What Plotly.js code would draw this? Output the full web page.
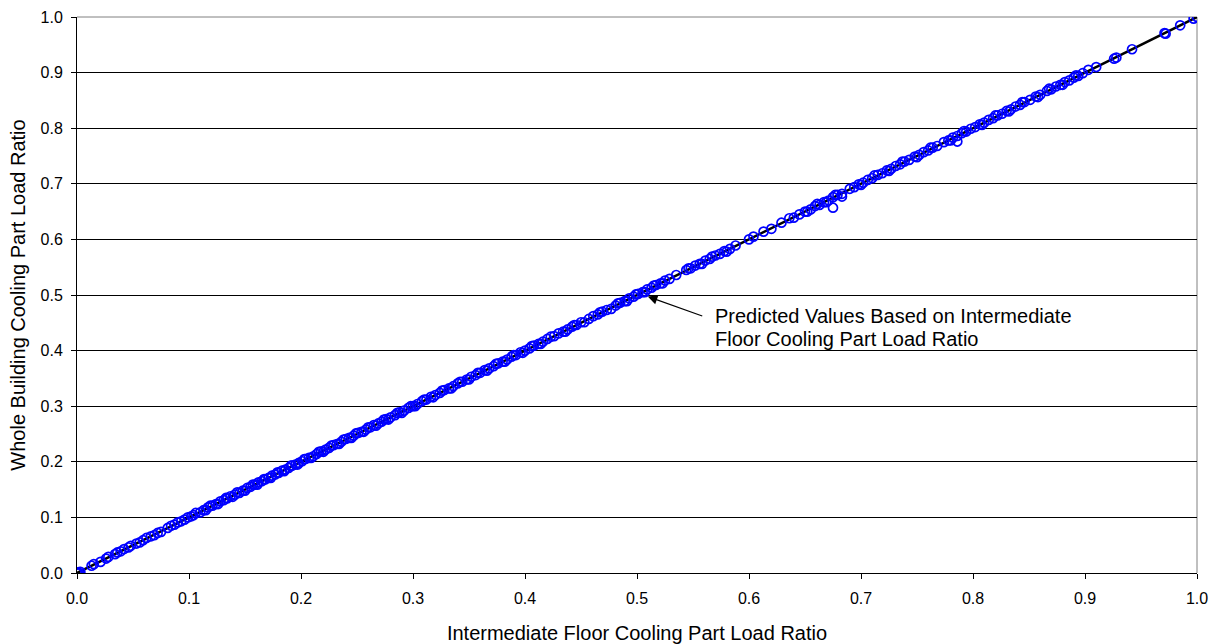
<!DOCTYPE html>
<html>
<head>
<meta charset="utf-8">
<script src="https://cdn.plot.ly/plotly-3.0.1.min.js"></script>
<style>
  html, body { margin: 0; padding: 0; background: #ffffff; }
  #chart { width: 1221px; height: 644px; }
</style>
</head>
<body>
<div id="chart"></div>
<script>
// Intermediate floor cooling part load ratio (x) for each hour
const intermediatePLR = [
  0.000, 0.001, 0.002, 0.003, 0.013, 0.015, 0.021, 0.026, 0.028, 0.034,
  0.036, 0.039, 0.042, 0.046, 0.048, 0.053, 0.056, 0.059, 0.062, 0.066,
  0.069, 0.072, 0.075, 0.081, 0.084, 0.087, 0.090, 0.093, 0.096, 0.099,
  0.102, 0.104, 0.110, 0.113, 0.117, 0.121, 0.124, 0.128, 0.131, 0.134,
  0.137, 0.141, 0.145, 0.148, 0.152, 0.155, 0.159, 0.162, 0.165, 0.168,
  0.171, 0.174, 0.177, 0.180, 0.183, 0.186, 0.189, 0.192, 0.195, 0.198,
  0.201, 0.204, 0.207, 0.211, 0.214, 0.218, 0.222, 0.225, 0.229, 0.232,
  0.236, 0.240, 0.243, 0.247, 0.251, 0.254, 0.258, 0.262, 0.265, 0.269,
  0.272, 0.276, 0.280, 0.284, 0.288, 0.292, 0.296, 0.300, 0.304, 0.308,
  0.312, 0.316, 0.320, 0.324, 0.328, 0.332, 0.336, 0.340, 0.344, 0.348,
  0.352, 0.356, 0.360, 0.364, 0.368, 0.372, 0.376, 0.380, 0.384, 0.388,
  0.392, 0.396, 0.400, 0.404, 0.408, 0.412, 0.416, 0.420, 0.426, 0.430,
  0.434, 0.438, 0.442, 0.446, 0.450, 0.457, 0.461, 0.465, 0.469, 0.473,
  0.481, 0.485, 0.489, 0.493, 0.497, 0.501, 0.505, 0.509, 0.513, 0.517,
  0.521, 0.525, 0.529, 0.535, 0.544, 0.548, 0.552, 0.556, 0.561, 0.565,
  0.570, 0.574, 0.578, 0.583, 0.588, 0.600, 0.604, 0.613, 0.620, 0.629,
  0.640, 0.645, 0.650, 0.655, 0.659, 0.663, 0.667, 0.671, 0.675, 0.679,
  0.683, 0.690, 0.694, 0.698, 0.702, 0.706, 0.710, 0.715, 0.719, 0.723,
  0.727, 0.731, 0.735, 0.739, 0.743, 0.748, 0.752, 0.756, 0.760, 0.764,
  0.768, 0.774, 0.778, 0.782, 0.786, 0.790, 0.794, 0.798, 0.802, 0.806,
  0.810, 0.814, 0.818, 0.822, 0.826, 0.830, 0.834, 0.838, 0.842, 0.846,
  0.851, 0.856, 0.860, 0.866, 0.870, 0.874, 0.878, 0.882, 0.886, 0.890,
  0.894, 0.898, 0.903, 0.910, 0.926, 0.928, 0.942, 0.971, 0.972, 0.985,
  0.997, 1.000, 0.675, 0.683, 0.786, 0.000
];

// Whole building cooling part load ratio (y) for the same hours
const wholeBuildingPLR = [
  0.000, 0.001, 0.000, 0.002, 0.013, 0.016, 0.020, 0.026, 0.029, 0.034,
  0.037, 0.039, 0.043, 0.046, 0.049, 0.053, 0.055, 0.059, 0.063, 0.066,
  0.068, 0.072, 0.074, 0.081, 0.085, 0.087, 0.091, 0.093, 0.096, 0.100,
  0.102, 0.104, 0.109, 0.113, 0.118, 0.121, 0.124, 0.129, 0.131, 0.134,
  0.138, 0.141, 0.144, 0.148, 0.153, 0.155, 0.159, 0.163, 0.165, 0.168,
  0.171, 0.175, 0.177, 0.180, 0.184, 0.186, 0.189, 0.193, 0.195, 0.198,
  0.201, 0.205, 0.207, 0.210, 0.214, 0.219, 0.222, 0.225, 0.230, 0.232,
  0.236, 0.241, 0.243, 0.247, 0.252, 0.254, 0.258, 0.262, 0.266, 0.269,
  0.272, 0.277, 0.280, 0.284, 0.289, 0.292, 0.297, 0.300, 0.304, 0.309,
  0.312, 0.317, 0.320, 0.324, 0.329, 0.332, 0.336, 0.341, 0.344, 0.348,
  0.353, 0.356, 0.360, 0.365, 0.368, 0.372, 0.377, 0.380, 0.384, 0.389,
  0.392, 0.397, 0.400, 0.404, 0.409, 0.412, 0.416, 0.421, 0.426, 0.431,
  0.434, 0.438, 0.443, 0.446, 0.451, 0.457, 0.462, 0.465, 0.470, 0.473,
  0.481, 0.486, 0.489, 0.494, 0.497, 0.502, 0.505, 0.510, 0.513, 0.518,
  0.521, 0.526, 0.529, 0.536, 0.545, 0.548, 0.553, 0.556, 0.562, 0.565,
  0.571, 0.574, 0.579, 0.583, 0.589, 0.600, 0.605, 0.614, 0.619, 0.630,
  0.639, 0.645, 0.650, 0.654, 0.660, 0.662, 0.667, 0.670, 0.676, 0.680,
  0.682, 0.691, 0.694, 0.699, 0.702, 0.707, 0.710, 0.716, 0.719, 0.724,
  0.727, 0.732, 0.735, 0.740, 0.743, 0.749, 0.752, 0.757, 0.760, 0.765,
  0.768, 0.775, 0.778, 0.783, 0.786, 0.791, 0.794, 0.799, 0.802, 0.807,
  0.810, 0.815, 0.818, 0.823, 0.826, 0.831, 0.834, 0.839, 0.842, 0.847,
  0.851, 0.857, 0.860, 0.867, 0.870, 0.875, 0.878, 0.883, 0.886, 0.891,
  0.894, 0.899, 0.905, 0.910, 0.925, 0.927, 0.942, 0.971, 0.970, 0.985,
  0.997, 1.000, 0.657, 0.677, 0.776, 0.000
];

// Further hours in the busy middle of the range
const moreIntermediatePLR = [
  0.106, 0.115, 0.119, 0.126, 0.133, 0.139, 0.143, 0.150, 0.157, 0.161,
  0.167, 0.173, 0.179, 0.185, 0.191, 0.197, 0.203, 0.209, 0.216, 0.220,
  0.227, 0.234, 0.238, 0.245, 0.249, 0.256, 0.260, 0.267, 0.274, 0.278,
  0.286, 0.290, 0.298, 0.302, 0.310, 0.318, 0.326, 0.334, 0.342, 0.350,
  0.358, 0.366, 0.374, 0.382, 0.390, 0.398, 0.406, 0.414, 0.423, 0.436,
  0.444, 0.453, 0.467, 0.477, 0.483, 0.491, 0.499, 0.507, 0.515, 0.523,
  0.546, 0.558, 0.567, 0.580, 0.636, 0.652, 0.661, 0.669, 0.677, 0.700,
  0.712, 0.725, 0.737, 0.750, 0.762, 0.780, 0.792, 0.808, 0.820, 0.832,
  0.844, 0.858, 0.868, 0.880, 0.892
];
const moreWholeBuildingPLR = [
  0.108, 0.113, 0.121, 0.124, 0.135, 0.137, 0.145, 0.148, 0.159, 0.159,
  0.169, 0.171, 0.181, 0.183, 0.193, 0.195, 0.205, 0.207, 0.218, 0.218,
  0.229, 0.232, 0.240, 0.243, 0.251, 0.254, 0.262, 0.265, 0.276, 0.276,
  0.288, 0.288, 0.300, 0.300, 0.312, 0.316, 0.328, 0.332, 0.344, 0.348,
  0.360, 0.364, 0.376, 0.380, 0.392, 0.396, 0.408, 0.412, 0.425, 0.434,
  0.446, 0.451, 0.469, 0.475, 0.485, 0.489, 0.501, 0.505, 0.517, 0.521,
  0.548, 0.556, 0.569, 0.578, 0.638, 0.650, 0.664, 0.667, 0.680, 0.698,
  0.715, 0.723, 0.740, 0.748, 0.765, 0.778, 0.795, 0.806, 0.823, 0.830,
  0.847, 0.856, 0.871, 0.878, 0.895
];

// Predicted whole building ratio from the intermediate floor ratio
const predictedX = [0.0, 0.25, 0.5, 0.75, 1.0];
const predictedY = [0.0, 0.25, 0.5, 0.75, 1.0];

const tickVals = [0, 0.1, 0.2, 0.3, 0.4, 0.5, 0.6, 0.7, 0.8, 0.9, 1.0];
const tickText = ['0.0', '0.1', '0.2', '0.3', '0.4', '0.5', '0.6', '0.7', '0.8', '0.9', '1.0'];

const xTitle = 'Intermediate Floor Cooling Part Load Ratio';
const yTitle = 'Whole Building Cooling Part Load Ratio';
const noteLines = ['Predicted Values Based on Intermediate', 'Floor Cooling Part Load Ratio'];

const FONT = 'Liberation Sans, Arial, Helvetica, sans-serif';

const traces = [
  {
    type: 'scatter',
    mode: 'lines',
    x: predictedX,
    y: predictedY,
    line: { color: '#000000', width: 2.5 },
    hoverinfo: 'skip',
    showlegend: false
  },
  {
    type: 'scatter',
    mode: 'markers',
    x: intermediatePLR.concat(moreIntermediatePLR),
    y: wholeBuildingPLR.concat(moreWholeBuildingPLR),
    marker: {
      symbol: 'circle-open',
      size: 9,
      color: '#0000FF',
      line: { width: 1.7, color: '#0000FF' }
    },
    showlegend: false
  }
];

const layout = {
  width: 1221,
  height: 644,
  margin: { l: 77, r: 24, t: 17, b: 71, pad: 0 },
  paper_bgcolor: '#ffffff',
  plot_bgcolor: '#ffffff',
  font: { family: FONT, size: 16, color: '#000000' },
  showlegend: false,
  xaxis: {
    range: [0, 1],
    tickvals: tickVals,
    ticktext: tickText,
    ticks: 'outside',
    ticklen: 5,
    tickwidth: 1,
    tickcolor: '#000000',
    ticklabelstandoff: 6,
    showgrid: false,
    zeroline: false,
    showline: true,
    linecolor: '#000000',
    linewidth: 1,
    tickfont: { family: FONT, size: 16, color: '#000000' },
    title: { text: xTitle, font: { family: FONT, size: 20, color: '#000000' }, standoff: 20 },
    fixedrange: true
  },
  yaxis: {
    range: [0, 1],
    tickvals: tickVals,
    ticktext: tickText,
    ticks: 'outside',
    ticklen: 5,
    tickwidth: 1,
    tickcolor: '#000000',
    ticklabelstandoff: 5,
    showgrid: true,
    gridcolor: '#000000',
    gridwidth: 1,
    zeroline: false,
    showline: true,
    linecolor: '#000000',
    linewidth: 1,
    tickfont: { family: FONT, size: 16, color: '#000000' },
    title: { text: yTitle, font: { family: FONT, size: 20, color: '#000000' }, standoff: 9 },
    fixedrange: true
  },
  shapes: [
    // grey plot-area border on the top and right sides
    { type: 'line', xref: 'paper', yref: 'paper', x0: 0, x1: 1, y0: 1, y1: 1,
      line: { color: '#808080', width: 1 }, layer: 'between' },
    { type: 'line', xref: 'paper', yref: 'paper', x0: 1, x1: 1, y0: 0, y1: 1,
      line: { color: '#808080', width: 1 }, layer: 'between' }
  ],
  annotations: [
    {
      x: 0.5096, y: 0.4973, xref: 'x', yref: 'y',
      text: '', showarrow: true,
      arrowhead: 2, arrowsize: 1.6, arrowwidth: 1.2, arrowcolor: '#000000',
      ax: 56, ay: 20
    },
    {
      x: 0.5676, y: 0.4615, xref: 'x', yref: 'y',
      text: noteLines[0], showarrow: false,
      xanchor: 'left', yanchor: 'middle',
      font: { family: FONT, size: 20, color: '#000000' }
    },
    {
      x: 0.5676, y: 0.4202, xref: 'x', yref: 'y',
      text: noteLines[1], showarrow: false,
      xanchor: 'left', yanchor: 'middle',
      font: { family: FONT, size: 20, color: '#000000' }
    }
  ]
};

Plotly.newPlot('chart', traces, layout, { staticPlot: true, displayModeBar: false });
</script>
</body>
</html>
